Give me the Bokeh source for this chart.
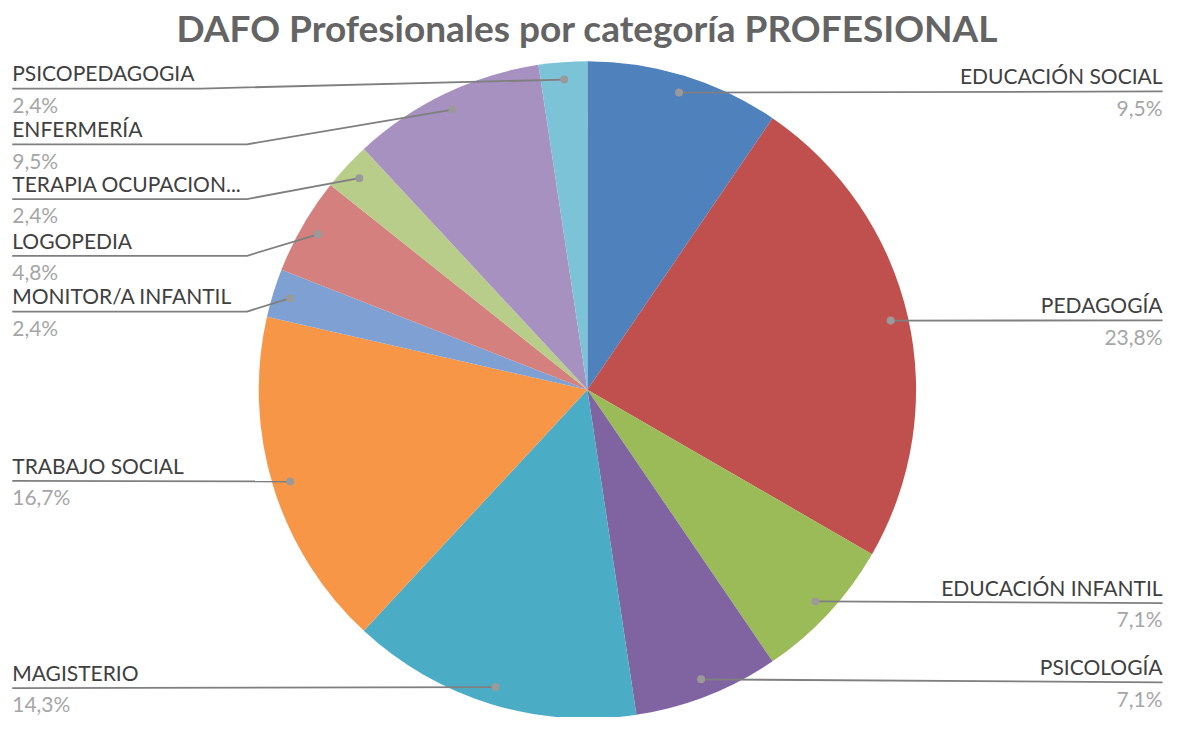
import math
from bokeh.plotting import figure
from bokeh.models import Range1d, ColumnDataSource
from bokeh.core.properties import value
from bokeh.embed import file_html
from bokeh.resources import INLINE

# ---- data ----
categories = ["EDUCACIÓN SOCIAL", "PEDAGOGÍA", "EDUCACIÓN INFANTIL", "PSICOLOGÍA",
              "MAGISTERIO", "TRABAJO SOCIAL", "MONITOR/A INFANTIL", "LOGOPEDIA",
              "TERAPIA OCUPACION...", "ENFERMERÍA", "PSICOPEDAGOGIA"]
counts = [4, 10, 3, 3, 6, 7, 1, 2, 1, 4, 1]
colors = ["#4F81BD", "#C0504D", "#9BBB59", "#8064A2", "#4BACC6", "#F79646",
          "#7FA0D3", "#D3807E", "#B9CD8B", "#A791C0", "#7DC3D8"]
title_text = "DAFO Profesionales por categoría PROFESIONAL"

# ---- layout (reference px) ----
W, H = 1179, 717
SCALE = H / 733.0
XSPAN = W / SCALE
CX, CY_S, R = 600, 398, 336
DOT_R = 318
label_side = ["R", "R", "R", "R", "L", "L", "L", "L", "L", "L", "L"]
label_line_y = [93, 327, 616, 697, 703, 491, 318, 261, 203, 147, 90]
label_elbow_x = [None, None, None, None, None, None, 252, 252, 252, 252, 205]
LEFT_X, RIGHT_X = 12, 1188
FS = 21
MID = 0.33 * FS

def sy(y):
    return 733 - y

total = sum(counts)
cum = [0]
for c in counts:
    cum.append(cum[-1] + c)
starts = [math.pi / 2 - 2 * math.pi * cum[i] / total for i in range(len(counts))]
ends = [math.pi / 2 - 2 * math.pi * cum[i + 1] / total for i in range(len(counts))]
pcts = [("%.1f%%" % (100 * c / total)).replace(".", ",") for c in counts]

p = figure(width=W, height=H, x_range=Range1d(0, XSPAN),
           y_range=Range1d(0, 733),
           output_backend="svg", toolbar_location=None, min_border=0,
           outline_line_color=None, background_fill_color="white",
           border_fill_color="white")
p.xaxis.visible = False
p.yaxis.visible = False
p.grid.visible = False

src = ColumnDataSource(dict(start=starts, end=ends, color=colors))
p.wedge(x=CX, y=sy(CY_S), radius=R, start_angle="start", end_angle="end",
        direction="clock", fill_color="color", line_color=None, source=src)

FONT = "Lato"
dots_x, dots_y = [], []
for i, cat in enumerate(categories):
    mid = (cum[i] + cum[i + 1]) / 2 / total * 2 * math.pi
    dx = CX + DOT_R * math.sin(mid)
    dy = sy(CY_S) + DOT_R * math.cos(mid)
    dots_x.append(dx)
    dots_y.append(dy)
    ly = label_line_y[i]
    if label_side[i] == "R":
        xs = [dx, RIGHT_X]
        ys = [dy, sy(ly)]
        tx, align = RIGHT_X, "right"
    else:
        if label_elbow_x[i] is None:
            xs = [LEFT_X, dx]
            ys = [sy(ly), dy]
        else:
            xs = [LEFT_X, label_elbow_x[i], dx]
            ys = [sy(ly), sy(ly), dy]
        tx, align = LEFT_X, "left"
    p.line(xs, ys, line_color="#7F7F7F", line_width=1.8)
    p.text(x=[tx], y=[sy(ly - 9 - MID)], text=[cat], text_align=align,
           text_baseline="middle", text_font=value(FONT),
           text_font_size="%dpx" % FS, text_color="#404040")
    p.text(x=[tx], y=[sy(ly + 23 - MID)], text=[pcts[i]], text_align=align,
           text_baseline="middle", text_font=value(FONT),
           text_font_size="%dpx" % FS, text_color="#A6A6A6")

p.scatter(dots_x, dots_y, size=8, fill_color="#9A9A9A", line_color=None)

p.text(x=[600], y=[sy(40 - 0.33 * 37)], text=[title_text], text_align="center",
       text_baseline="middle", text_font=value(FONT), text_font_style="bold",
       text_font_size="37px", text_color="#646464")

open("out.html", "w").write(file_html(p, INLINE))
